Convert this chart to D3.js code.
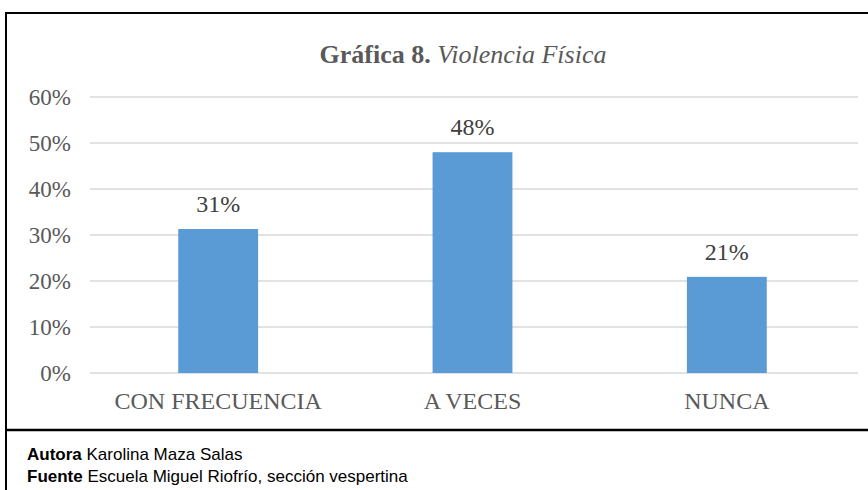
<!DOCTYPE html>
<html>
<head>
<meta charset="utf-8">
<style>
  body { margin: 0; background: #fff; }
  svg { display: block; }
</style>
</head>
<body>
<div id="chart"></div>
<script src="https://d3js.org/d3.v7.min.js"></script>
<script>
// data
var categories = ["CON FRECUENCIA", "A VECES", "NUNCA"];
var values = [0.313, 0.48, 0.209];
var valueLabels = ["31%", "48%", "21%"];
var yTicks = [0, 0.1, 0.2, 0.3, 0.4, 0.5, 0.6];

var width = 868, height = 490;
var serif = "'Liberation Serif', 'Times New Roman', serif";
var svg = d3.select("#chart").append("svg")
    .attr("width", width)
    .attr("height", height);

// frame of the chart and the note box
svg.append("path")
    .attr("d", "M6,490 L6,13 L868,13")
    .attr("fill", "none")
    .attr("stroke", "#000")
    .attr("stroke-width", 2);
svg.append("line")
    .attr("x1", 6).attr("x2", 868)
    .attr("y1", 430).attr("y2", 430)
    .attr("stroke", "#000")
    .attr("stroke-width", 2.5);

var x = d3.scaleBand()
    .domain(categories)
    .range([91, 854])
    .paddingInner(0.686)
    .paddingOuter(0.343);

var y = d3.scaleLinear()
    .domain([0, 0.6])
    .range([373, 97]);

// gridlines
svg.append("g")
    .selectAll("line")
    .data(yTicks)
    .join("line")
    .attr("x1", 90).attr("x2", 858)
    .attr("y1", function(d) { return y(d); })
    .attr("y2", function(d) { return y(d); })
    .attr("stroke", "#d9d9d9")
    .attr("stroke-width", 1.5);

// y axis labels
var yAxis = d3.axisLeft(y)
    .tickValues(yTicks)
    .tickFormat(d3.format(".0%"))
    .tickSize(0)
    .tickPadding(0);
svg.append("g")
    .attr("transform", "translate(71,0)")
    .call(yAxis)
    .call(function(g) { g.select(".domain").remove(); })
    .selectAll("text")
    .attr("font-family", serif)
    .attr("font-size", 23)
    .attr("fill", "#595959");

// x axis labels
var xAxis = d3.axisBottom(x).tickSize(0).tickPadding(0);
svg.append("g")
    .attr("transform", "translate(0,392)")
    .call(xAxis)
    .call(function(g) { g.select(".domain").remove(); })
    .selectAll("text")
    .attr("font-family", serif)
    .attr("font-size", 24)
    .attr("fill", "#595959");

// bars
svg.append("g")
    .selectAll("rect")
    .data(values)
    .join("rect")
    .attr("x", function(d, i) { return x(categories[i]); })
    .attr("y", function(d) { return y(d); })
    .attr("width", x.bandwidth())
    .attr("height", function(d) { return y(0) - y(d); })
    .attr("fill", "#5b9bd5");

// value labels
svg.append("g")
    .selectAll("text")
    .data(values)
    .join("text")
    .attr("x", function(d, i) { return x(categories[i]) + x.bandwidth() / 2; })
    .attr("y", function(d) { return y(d) - 17; })
    .attr("text-anchor", "middle")
    .attr("font-family", serif)
    .attr("font-size", 24)
    .attr("fill", "#404040")
    .text(function(d, i) { return valueLabels[i]; });

// title
var title = svg.append("text")
    .attr("x", 463)
    .attr("y", 63)
    .attr("text-anchor", "middle")
    .attr("font-family", serif)
    .attr("font-size", 26)
    .attr("fill", "#595959");
title.append("tspan").attr("font-weight", "bold").text("Gráfica 8.");
title.append("tspan").attr("font-style", "italic").text(" Violencia Física");

// notes under the chart
var notes = [["Autora", " Karolina Maza Salas"], ["Fuente", " Escuela Miguel Riofrío, sección vespertina"]];
svg.append("g")
    .selectAll("text")
    .data(notes)
    .join("text")
    .attr("x", 27)
    .attr("y", function(d, i) { return 460 + i * 22; })
    .attr("font-family", "'Liberation Sans', Arial, sans-serif")
    .attr("font-size", 17)
    .attr("fill", "#000")
    .each(function(d) {
      d3.select(this).append("tspan").attr("font-weight", "bold").text(d[0]);
      d3.select(this).append("tspan").text(d[1]);
    });
</script>
</body>
</html>
